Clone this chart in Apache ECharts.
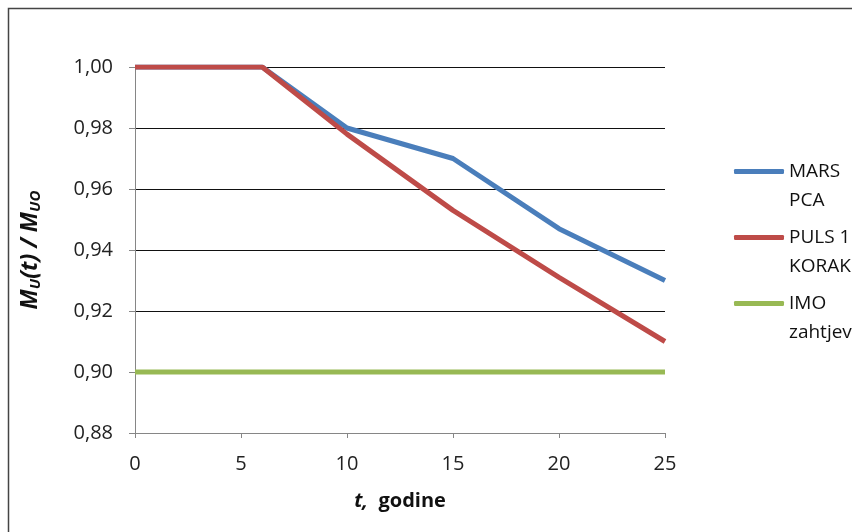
<!DOCTYPE html>
<html><head><meta charset="utf-8">
<script src="https://cdn.jsdelivr.net/npm/echarts@6/dist/echarts.min.js"></script>
<style>html,body{margin:0;padding:0;background:#fff}#c{width:852px;height:532px}</style>
</head><body><div id="c"></div>
<script>
const years = [0, 6, 10, 15, 20, 25];
const marsPCA = [1.000, 1.000, 0.980, 0.970, 0.947, 0.930];
const puls1Korak = [1.000, 1.000, 0.978, 0.953, 0.931, 0.910];
const imoYears = [0, 25];
const imoZahtjev = [0.90, 0.90];
const seriesNames = ['MARS\nPCA', 'PULS 1\nKORAK', 'IMO\nzahtjev'];
const FONT = '"Open Sans", Lato, sans-serif';

const zip = (xs, ys) => xs.map((x, i) => [x, ys[i]]);
const chart = echarts.init(document.getElementById('c'));
chart.setOption({
  animation: false,
  textStyle: {fontFamily: FONT},
  graphic: [{type: 'rect', shape: {x: 8.5, y: 8.5, width: 900, height: 600},
    style: {fill: 'none', stroke: '#444', lineWidth: 1.5}, silent: true, z: -1}],
  grid: {left: 135, right: 187, top: 67, bottom: 99},
  xAxis: {
    type: 'value', min: 0, max: 25, interval: 5,
    axisLine: {show: true, lineStyle: {color: '#868686', width: 1}},
    axisTick: {show: true, length: 5, lineStyle: {color: '#868686'}},
    splitLine: {show: false},
    axisLabel: {color: '#222', fontSize: 20, fontFamily: FONT, margin: 21},
    name: '{i|t,}{b|  godine}', nameLocation: 'middle', nameGap: 58,
    nameTextStyle: {rich: {
      i: {fontSize: 20, fontWeight: 'bold', fontStyle: 'italic', color: '#111', fontFamily: FONT},
      b: {fontSize: 20, fontWeight: 'bold', color: '#111', fontFamily: FONT}}}
  },
  yAxis: {
    type: 'value', min: 0.88, max: 1.00, interval: 0.02,
    axisLine: {show: true, lineStyle: {color: '#868686', width: 1}},
    axisTick: {show: true, length: 6, lineStyle: {color: '#868686'}},
    splitLine: {show: true, lineStyle: {color: '#111', width: 1}},
    axisLabel: {color: '#222', fontSize: 20, fontFamily: FONT, margin: 22,
      formatter: v => v.toFixed(2).replace('.', ',')},
    name: '{m|M}{s|U}{m|(t) / M}{s|UO}', nameLocation: 'middle', nameGap: 92, nameRotate: 90,
    nameTextStyle: {rich: {
      m: {fontSize: 23, fontWeight: 'bold', fontStyle: 'italic', color: '#111', fontFamily: FONT},
      s: {fontSize: 15, fontWeight: 'bold', fontStyle: 'italic', color: '#111', fontFamily: FONT, padding: [10, 0, 0, 0]}}}
  },
  legend: {
    orient: 'vertical', left: 729, top: 128,
    itemWidth: 50, itemHeight: 5, itemGap: -11, icon: 'roundRect',
    data: seriesNames,
    formatter: n => '{e| }\n' + n.split('\n').map(s => '{a|' + s + '}').join('\n'),
    textStyle: {color: '#111', fontFamily: FONT, rich: {
      a: {fontSize: 19, lineHeight: 29, color: '#111', fontFamily: FONT},
      e: {fontSize: 19, lineHeight: 29}}},
    selectedMode: false
  },
  series: [
    {name: seriesNames[0], type: 'line', data: zip(years, marsPCA), showSymbol: false, symbol: 'none',
      lineStyle: {color: '#4a7ebb', width: 5}, itemStyle: {color: '#4a7ebb'}, z: 2},
    {name: seriesNames[1], type: 'line', data: zip(years, puls1Korak), showSymbol: false, symbol: 'none',
      lineStyle: {color: '#be4b48', width: 5}, itemStyle: {color: '#be4b48'}, z: 3},
    {name: seriesNames[2], type: 'line', data: zip(imoYears, imoZahtjev), showSymbol: false, symbol: 'none',
      lineStyle: {color: '#98b954', width: 5}, itemStyle: {color: '#98b954'}, z: 2}
  ]
});
</script></body></html>
